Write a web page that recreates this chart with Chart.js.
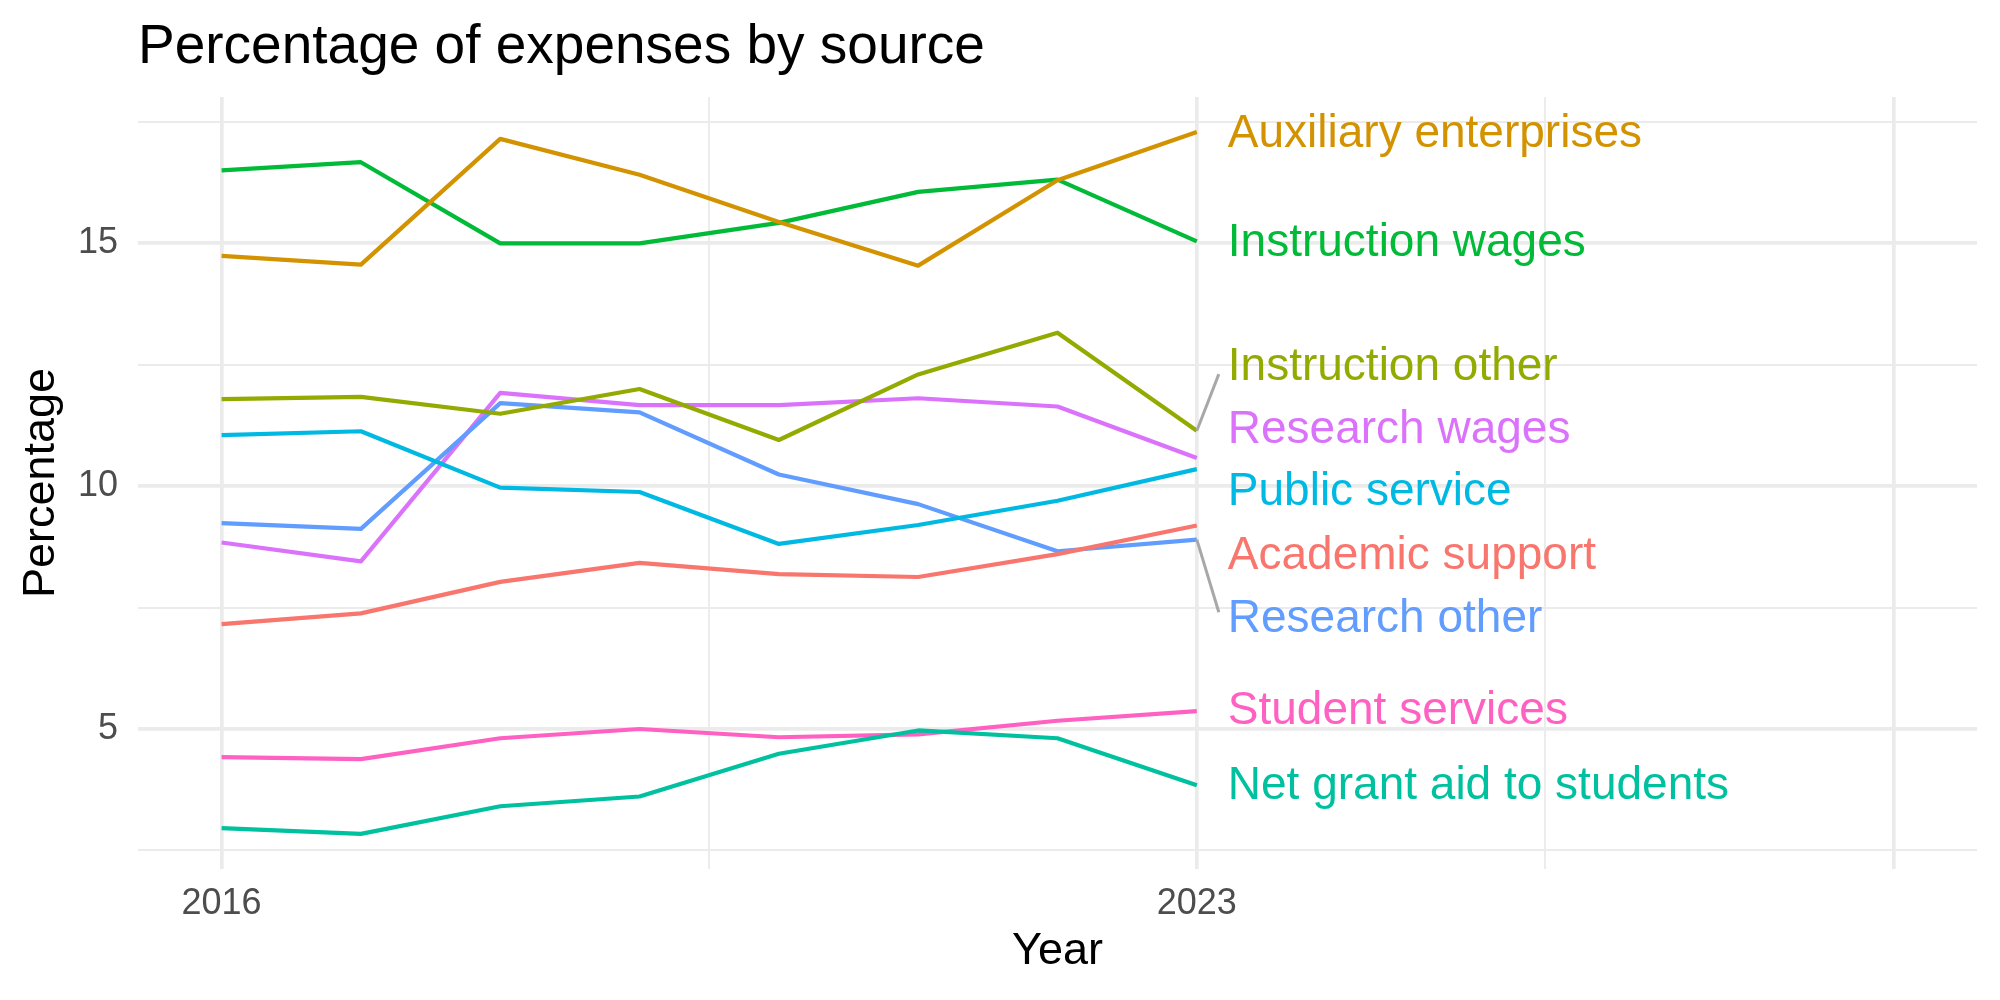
<!DOCTYPE html>
<html>
<head>
<meta charset="utf-8">
<script src="https://cdn.jsdelivr.net/npm/chart.js@4.4.1/dist/chart.umd.min.js"></script>
<style>
  html, body { margin: 0; padding: 0; background: #fff; }
  #wrap { width: 2000px; height: 1000px; }
</style>
</head>
<body>
<div id="wrap"><canvas id="chart" width="2000" height="1000"></canvas></div>
<script>
const years = [2016, 2017, 2018, 2019, 2020, 2021, 2022, 2023];

const sources = [
  'Academic support', 'Auxiliary enterprises', 'Instruction other', 'Instruction wages',
  'Net grant aid to students', 'Public service', 'Research other', 'Research wages', 'Student services'
];
const colors = ['#F8766D', '#D39200', '#93AA00', '#00BA38', '#00C19F', '#00B9E3', '#619CFF', '#DB72FB', '#FF61C3'];

const academicSupport      = [7.16, 7.38, 8.03, 8.42, 8.19, 8.13, 8.60, 9.19];
const auxiliaryEnterprises = [14.74, 14.56, 17.15, 16.41, 15.44, 14.54, 16.30, 17.29];
const instructionOther     = [11.79, 11.84, 11.49, 12.00, 10.95, 12.30, 13.16, 11.14];
const instructionWages     = [16.50, 16.67, 15.00, 15.00, 15.42, 16.06, 16.31, 15.04];
const netGrantAid          = [2.96, 2.84, 3.41, 3.61, 4.49, 4.97, 4.81, 3.84];
const publicService        = [11.05, 11.13, 9.97, 9.88, 8.81, 9.20, 9.70, 10.35];
const researchOther        = [9.24, 9.12, 11.71, 11.52, 10.24, 9.63, 8.66, 8.90];
const researchWages        = [8.84, 8.45, 11.92, 11.67, 11.67, 11.81, 11.64, 10.58];
const studentServices      = [4.42, 4.38, 4.81, 5.00, 4.83, 4.89, 5.17, 5.37];

const series = [academicSupport, auxiliaryEnterprises, instructionOther, instructionWages,
  netGrantAid, publicService, researchOther, researchWages, studentServices];

// where the repelled end labels sit (data units)
const labelY = [8.55, 17.24, 12.45, 14.99, 3.81, 9.87, 7.26, 11.16, 5.37];

const xBreaks = [2016, 2023, 2028];
const xTickLabels = ['2016', '2023', ''];
const xMinor = [2019.5, 2025.5];
const yBreaks = [5, 10, 15];
const yMinor = [2.5, 7.5, 12.5, 17.5];

const FONT = '"Liberation Sans", Arial, sans-serif';

// ggplot style 5% expansion
const allVals = series.flat();
const yLo = Math.min(...allVals), yHi = Math.max(...allVals);
const yPad = (yHi - yLo) * 0.05;
const xPad = (xBreaks[xBreaks.length - 1] - xBreaks[0]) * 0.05;

const endLabels = {
  id: 'endLabels',
  afterDraw(chart) {
    const { ctx, scales: { x, y } } = chart;
    ctx.save();
    ctx.fillStyle = '#000';
    ctx.font = '55px ' + FONT;
    ctx.textBaseline = 'alphabetic';
    ctx.textAlign = 'left';
    ctx.fillText('Percentage of expenses by source', chart.chartArea.left, 63);

    const xEnd = x.getPixelForValue(years[years.length - 1]);
    const textX = xEnd + 31;
    ctx.font = '46px ' + FONT;
    ctx.textBaseline = 'middle';
    series.forEach((vals, i) => {
      const py = y.getPixelForValue(vals[vals.length - 1]);
      const ly = y.getPixelForValue(labelY[i]);
      if (Math.abs(ly - py) > 40) {
        const sign = py > ly ? 1 : -1;
        ctx.strokeStyle = '#A8A8A8';
        ctx.lineWidth = 3;
        ctx.beginPath();
        ctx.moveTo(xEnd, py);
        ctx.lineTo(textX - 9, ly + sign * 7);
        ctx.stroke();
      }
      ctx.fillStyle = colors[i];
      ctx.fillText(sources[i], textX, ly);
    });
    ctx.restore();
  }
};

new Chart(document.getElementById('chart').getContext('2d'), {
  type: 'line',
  data: {
    datasets: series.map((vals, i) => ({
      label: sources[i],
      data: vals.map((v, j) => ({ x: years[j], y: v })),
      borderColor: colors[i],
      borderWidth: 4.2,
      borderJoinStyle: 'round',
      pointRadius: 0,
      tension: 0,
      fill: false
    }))
  },
  options: {
    responsive: false,
    animation: false,
    devicePixelRatio: 1,
    layout: { padding: { top: 97, right: 23, left: 0, bottom: 0 } },
    plugins: { legend: { display: false }, tooltip: { enabled: false } },
    scales: {
      x: {
        type: 'linear',
        min: xBreaks[0] - xPad,
        max: xBreaks[xBreaks.length - 1] + xPad,
        afterBuildTicks: s => {
          s.ticks = [...xBreaks, ...xMinor].sort((a, b) => a - b).map(v => ({ value: v }));
        },
        afterFit: s => { s.height = 131; },
        ticks: {
          autoSkip: false,
          maxRotation: 0,
          padding: 13.5,
          color: '#4D4D4D',
          font: { family: FONT, size: 36 },
          callback: v => { const k = xBreaks.indexOf(v); return k >= 0 ? xTickLabels[k] : ''; }
        },
        grid: {
          drawTicks: false,
          color: '#EBEBEB',
          lineWidth: c => xBreaks.includes(c.tick.value) ? 3.7 : 1.9
        },
        border: { display: false },
        title: {
          display: true,
          text: 'Year',
          color: '#000',
          font: { family: FONT, size: 45, lineHeight: 1.2 },
          padding: { top: 0, bottom: 21 }
        }
      },
      y: {
        type: 'linear',
        min: yLo - yPad,
        max: yHi + yPad,
        afterBuildTicks: s => {
          s.ticks = [...yBreaks, ...yMinor].sort((a, b) => a - b).map(v => ({ value: v }));
        },
        afterFit: s => { s.width = 138; },
        ticks: {
          autoSkip: false,
          padding: 20,
          color: '#4D4D4D',
          font: { family: FONT, size: 36 },
          callback: v => yBreaks.includes(v) ? String(v) : ''
        },
        grid: {
          drawTicks: false,
          color: '#EBEBEB',
          lineWidth: c => yBreaks.includes(c.tick.value) ? 3.7 : 1.9
        },
        border: { display: false },
        title: {
          display: true,
          text: 'Percentage',
          color: '#000',
          font: { family: FONT, size: 45, lineHeight: 1.2 },
          padding: { top: 15, bottom: 0 }
        }
      }
    }
  },
  plugins: [endLabels]
});
</script>
</body>
</html>
